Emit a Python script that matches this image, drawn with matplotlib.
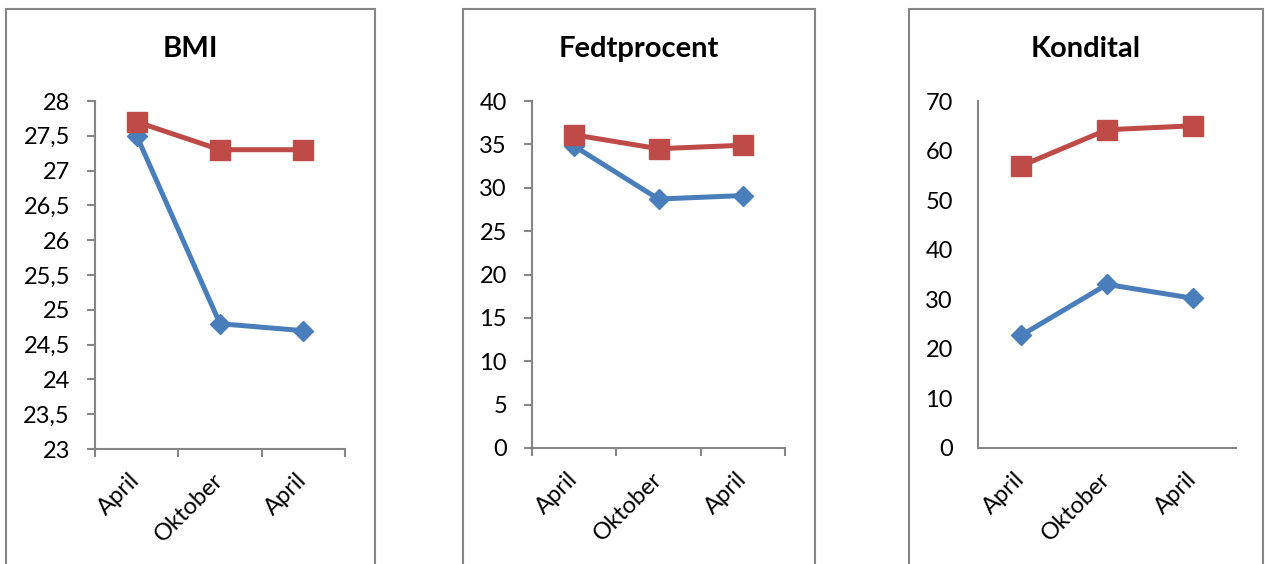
import matplotlib
matplotlib.use("Agg")
import matplotlib.pyplot as plt
from matplotlib.patches import Rectangle

plt.rcParams['font.family'] = ['Lato', 'DejaVu Sans']

categories = ["April", "Oktober", "April"]

titles = ["BMI", "Fedtprocent", "Kondital"]

bmi_blue = [27.5, 24.8, 24.7]
bmi_red = [27.7, 27.3, 27.3]
fedt_blue = [34.8, 28.7, 29.1]
fedt_red = [36.1, 34.5, 34.9]
kond_blue = [22.7, 33.0, 30.2]
kond_red = [56.9, 64.2, 65.0]

bmi_ticks = [23, 23.5, 24, 24.5, 25, 25.5, 26, 26.5, 27, 27.5, 28]
fedt_ticks = [0, 5, 10, 15, 20, 25, 30, 35, 40]
kond_ticks = [0, 10, 20, 30, 40, 50, 60, 70]

BLUE = "#4A7EBB"
RED = "#BE4B48"
GRAY = "#868686"

W, H = 1265, 564
fig = plt.figure(figsize=(W / 100, H / 100), dpi=100)

def fx(px):
    return px / W

def fy(py):
    return 1 - py / H

panels = [
    dict(border=(6, 375), ax=(95, 345, 101, 449), ticks=True,
         blue=bmi_blue, red=bmi_red, yt=bmi_ticks, title=titles[0]),
    dict(border=(463, 815), ax=(532, 785, 101, 448), ticks=True,
         blue=fedt_blue, red=fedt_red, yt=fedt_ticks, title=titles[1]),
    dict(border=(909, 1263), ax=(978, 1236, 101, 448), ticks=False,
         blue=kond_blue, red=kond_red, yt=kond_ticks, title=titles[2]),
]

def fmt(v):
    return ("%g" % v).replace(".", ",")

for p in panels:
    bl, br = p["border"]
    fig.patches.append(Rectangle((fx(bl), fy(600)), fx(br - bl), fy(9) - fy(600),
                                 transform=fig.transFigure, fill=False,
                                 edgecolor=GRAY, linewidth=1.5, zorder=0))
    fig.text(fx((bl + br) / 2), fy(49), p["title"], ha="center", va="center",
             fontsize=21, fontweight="bold", color="black")

    al, ar, at, ab = p["ax"]
    ax = fig.add_axes([fx(al), fy(ab), fx(ar - al), fy(at) - fy(ab)])
    x = [1, 2, 3]
    ax.plot(x, p["blue"], color=BLUE, lw=3.6, marker="D", markersize=10.2,
            markerfacecolor=BLUE, markeredgecolor=BLUE, zorder=3, clip_on=False)
    ax.plot(x, p["red"], color=RED, lw=3.6, marker="s", markersize=14.4,
            markerfacecolor=RED, markeredgecolor=RED, zorder=4, clip_on=False)
    ax.set_xlim(0.5, 3.5)
    yt = p["yt"]
    ax.set_ylim(yt[0], yt[-1])
    ax.set_yticks(yt)
    ax.set_yticklabels([fmt(v) for v in yt])
    for s in ["top", "right"]:
        ax.spines[s].set_visible(False)
    for s in ["left", "bottom"]:
        ax.spines[s].set_color(GRAY)
        ax.spines[s].set_linewidth(1.5)
    ax.set_xticks([0.5, 1.5, 2.5, 3.5])
    ax.set_xticklabels([])
    ax.set_xticks([1, 2, 3], minor=True)
    ax.set_xticklabels(categories, minor=True, rotation=45, ha="right",
                       rotation_mode="anchor", va="center")
    tl = 6 if p["ticks"] else 0
    ax.tick_params(axis="y", length=tl, width=1.5, color=GRAY,
                   labelsize=17, pad=18 - tl)
    ax.tick_params(axis="x", which="major", length=tl, width=1.5, color=GRAY)
    ax.tick_params(axis="x", which="minor", length=0, labelsize=17, pad=20)

fig.savefig("out.png", dpi=100)
